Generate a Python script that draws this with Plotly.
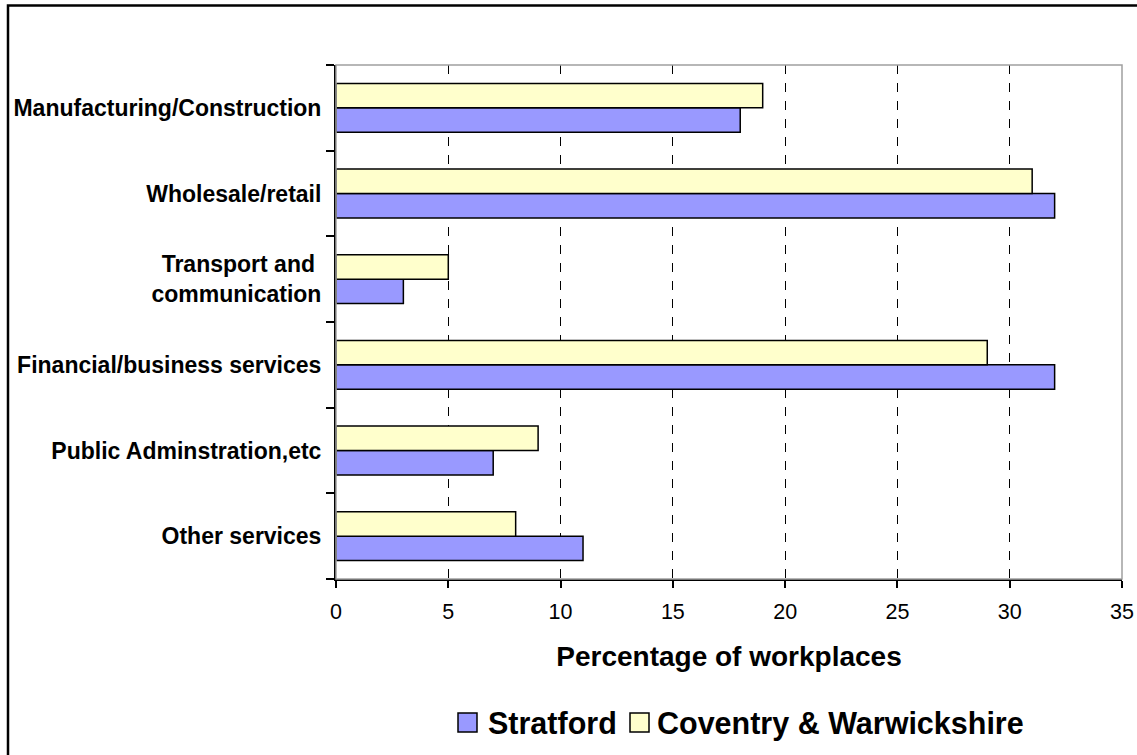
import plotly.graph_objects as go

# Sectors, top to bottom
sectors = [
    "Manufacturing/Construction",
    "Wholesale/retail",
    "Transport and\u00a0<br>communication",
    "Financial/business services",
    "Public Adminstration,etc",
    "Other services",
]
stratford = [18, 32, 3, 32, 7, 11]
coventry = [19, 31, 5, 29, 9, 8]
series_names = ["Stratford", "Coventry & Warwickshire"]
series_colors = ["#9999FF", "#FFFFCC"]
x_ticks = [0, 5, 10, 15, 20, 25, 30, 35]

FONT = "Liberation Sans, Arial, sans-serif"

# plot-area geometry in pixels
FW, FH = 1137, 755
L, R, T, B = 336, 15, 65, 176
PW, PH = FW - L - R, FH - T - B


def px(x):
    return (x - L) / PW


def py(y):
    return (FH - B - y) / PH


fig = go.Figure()
for name, vals, col in zip(series_names, [stratford, coventry], series_colors):
    fig.add_trace(go.Bar(
        y=sectors, x=vals, name=name, orientation="h",
        marker=dict(color=col, line=dict(color="black", width=1.5)),
        showlegend=False,
    ))

shapes = [
    # plot-area frame (grey)
    dict(type="rect", xref="paper", yref="paper", x0=0, x1=1, y0=0, y1=1,
         line=dict(color="#A0A0A0", width=1.5), layer="above"),
    # outer chart border
    dict(type="rect", xref="paper", yref="paper",
         x0=px(8), x1=px(FW + 10), y0=py(FH + 10), y1=py(5.5),
         line=dict(color="black", width=2.5), layer="above"),
]
annotations = []

# legend drawn as boxes + labels
legend_items = [(458, 486), (630, 655)]
for (bx, tx), name, col in zip(legend_items, series_names, series_colors):
    shapes.append(dict(type="rect", xref="paper", yref="paper",
                       x0=px(bx), x1=px(bx + 19), y0=py(732), y1=py(713),
                       fillcolor=col, line=dict(color="black", width=1.5)))
    annotations.append(dict(xref="paper", yref="paper", x=px(tx), y=py(723),
                            xanchor="left", yanchor="middle", showarrow=False,
                            text="<b>%s</b>" % name,
                            font=dict(family=FONT, size=30.5, color="black")))

fig.update_layout(
    width=FW, height=FH,
    margin=dict(l=L, r=R, t=T, b=B, pad=0, autoexpand=False),
    paper_bgcolor="white", plot_bgcolor="white",
    barmode="group", bargap=0.43, bargroupgap=0,
    font=dict(family=FONT, color="black"),
    shapes=shapes, annotations=annotations,
    xaxis=dict(
        range=[0, 35], tickvals=x_ticks, ticktext=[str(v) for v in x_ticks],
        automargin=False,
        showgrid=True, gridcolor="black", gridwidth=1, griddash="dash",
        zeroline=False, showline=True, linecolor="black", linewidth=2,
        ticks="outside", ticklen=7, tickwidth=1.5, tickcolor="black",
        ticklabelstandoff=5,
        tickfont=dict(family=FONT, size=21.5),
        title=dict(text="<b>Percentage of workplaces</b>", standoff=24,
                   font=dict(family=FONT, size=28)),
    ),
    yaxis=dict(
        categoryorder="array", categoryarray=sectors[::-1],
        automargin=False,
        tickson="boundaries", ticks="outside", ticklen=8, tickwidth=1.5,
        tickcolor="black", showline=True, linecolor="black", linewidth=2,
        showgrid=False, ticklabelstandoff=8,
        tickfont=dict(family=FONT, size=23),
        tickprefix="<b>", ticksuffix="</b>",
    ),
)

fig.write_html("out.html")
